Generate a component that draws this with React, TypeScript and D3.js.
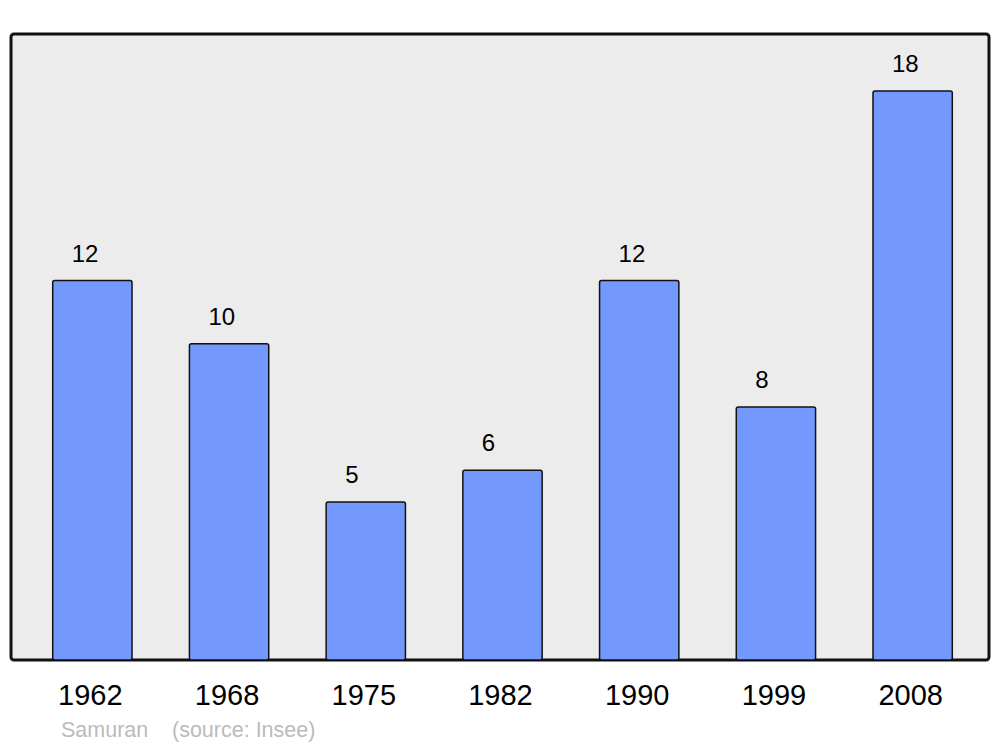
import React from "react";
import * as d3 from "d3";

const years = ["1962", "1968", "1975", "1982", "1990", "1999", "2008"];
const values = [12, 10, 5, 6, 12, 8, 18];
const footerAuthor = "Samuran";
const footerSource = "(source: Insee)";

export default function App() {
  const W = 1000, H = 747;
  const panel = { x: 11, y: 34, w: 978, h: 626 };
  const x = d3.scaleBand<string>().domain(years).range([24, 981]).paddingInner(0.42).paddingOuter(0.21);
  const y = d3.scaleLinear().domain([0, d3.max(values)! * 1.1]).range([panel.y + panel.h, panel.y]);
  const font = "'Liberation Sans', Arial, sans-serif";
  return (
    <svg width={W} height={H} style={{ position: "absolute", left: 0, top: 0 }} fontFamily={font}>
      <rect x={0} y={0} width={W} height={H} fill="#fff" />
      <rect x={panel.x} y={panel.y} width={panel.w} height={panel.h} rx={3} fill="#ececec" stroke="#111" strokeWidth={3} />
      {years.map((yr, i) => {
        const bx = x(yr)!;
        const by = y(values[i]);
        return (
          <g key={yr}>
            <rect x={bx} y={by} width={x.bandwidth()} height={y(0) - by} rx={2} fill="#7399ff" stroke="#111" strokeWidth={1.5} />
            <text x={bx + 19} y={by - 19} fontSize={24} fill="#000">{values[i]}</text>
            <text x={bx + x.bandwidth() / 2 - 2} y={705} fontSize={29} textAnchor="middle" fill="#000">{yr}</text>
          </g>
        );
      })}
      <text x={61} y={737} fontSize={21.5} fill="#bbb">{footerAuthor}</text>
      <text x={172} y={737} fontSize={21.5} fill="#bbb">{footerSource}</text>
    </svg>
  );
}
